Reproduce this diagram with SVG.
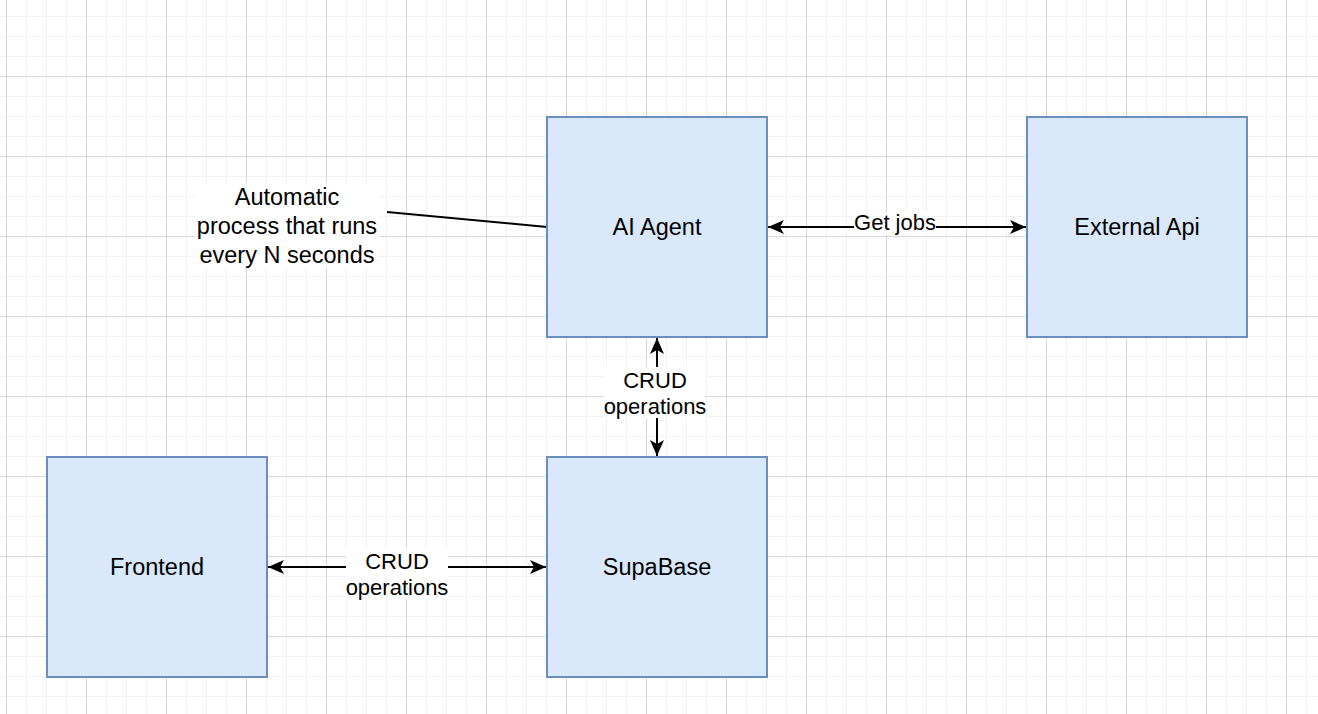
<svg xmlns="http://www.w3.org/2000/svg" width="1318" height="714" viewBox="0 0 1318 714">
  <defs>
    <pattern id="minor" x="6" y="16" width="20" height="20" patternUnits="userSpaceOnUse">
      <path d="M0 0H20M0 0V20" fill="none" stroke="#f2f2f2" stroke-width="2"/>
    </pattern>
    <pattern id="major" x="6" y="76" width="80" height="80" patternUnits="userSpaceOnUse">
      <path d="M0 0H80M0 0V80" fill="none" stroke="#d0d0d0" stroke-width="1.5"/>
    </pattern>
    <marker id="arr" viewBox="0 0 16 14" refX="16" refY="7" markerWidth="16" markerHeight="14" markerUnits="userSpaceOnUse" orient="auto-start-reverse">
      <path d="M16 7L0 0L4 7L0 14Z" fill="#000"/>
    </marker>
    <style>
      .box{fill:#dae8fc;stroke:#6c8ebf;stroke-width:2}
      .lbl{font-family:"Liberation Sans",Arial,Helvetica,sans-serif;font-size:23.5px;fill:#000;text-anchor:middle;dominant-baseline:central}
      .elbl{font-family:"Liberation Sans",Arial,Helvetica,sans-serif;font-size:22px;fill:#000;text-anchor:middle;dominant-baseline:central}
      .edge{fill:none;stroke:#000;stroke-width:2}
      .bg{fill:#fff}
    </style>
  </defs>
  <rect width="1318" height="714" fill="#fff"/>
  <rect width="1318" height="714" fill="url(#minor)"/>
  <rect width="1318" height="714" fill="url(#major)"/>

  <g id="connectors">
    <path class="edge" d="M768 227H1026" marker-start="url(#arr)" marker-end="url(#arr)"/>
    <path class="edge" d="M657 338V456" marker-start="url(#arr)" marker-end="url(#arr)"/>
    <path class="edge" d="M268 567H546" marker-start="url(#arr)" marker-end="url(#arr)"/>
    <path class="edge" d="M387 212L547 227"/>
    <g id="label-getjobs">
      <rect class="bg" x="854" y="212" width="82" height="22"/>
      <text class="elbl" x="895" y="222">Get jobs</text>
    </g>
    <g id="label-crud-v">
      <rect class="bg" x="604" y="367" width="102" height="51"/>
      <text class="elbl" x="655" y="380">CRUD</text>
      <text class="elbl" x="655" y="406">operations</text>
    </g>
    <g id="label-crud-h">
      <rect class="bg" x="346" y="548" width="102" height="51"/>
      <text class="elbl" x="397" y="561">CRUD</text>
      <text class="elbl" x="397" y="587">operations</text>
    </g>
  </g>

  <g id="note">
    <rect class="bg" x="195" y="183" width="184" height="85"/>
    <text class="lbl" x="287" y="197">Automatic</text>
    <text class="lbl" x="287" y="226">process that runs</text>
    <text class="lbl" x="287" y="255">every N seconds</text>
  </g>

  <g id="ai-agent">
    <rect class="box" x="547" y="117" width="220" height="220"/>
    <text class="lbl" x="657" y="227">AI Agent</text>
  </g>
  <g id="external-api">
    <rect class="box" x="1027" y="117" width="220" height="220"/>
    <text class="lbl" x="1137" y="227">External Api</text>
  </g>
  <g id="frontend">
    <rect class="box" x="47" y="457" width="220" height="220"/>
    <text class="lbl" x="157" y="567">Frontend</text>
  </g>
  <g id="supabase">
    <rect class="box" x="547" y="457" width="220" height="220"/>
    <text class="lbl" x="657" y="567">SupaBase</text>
  </g>
</svg>
